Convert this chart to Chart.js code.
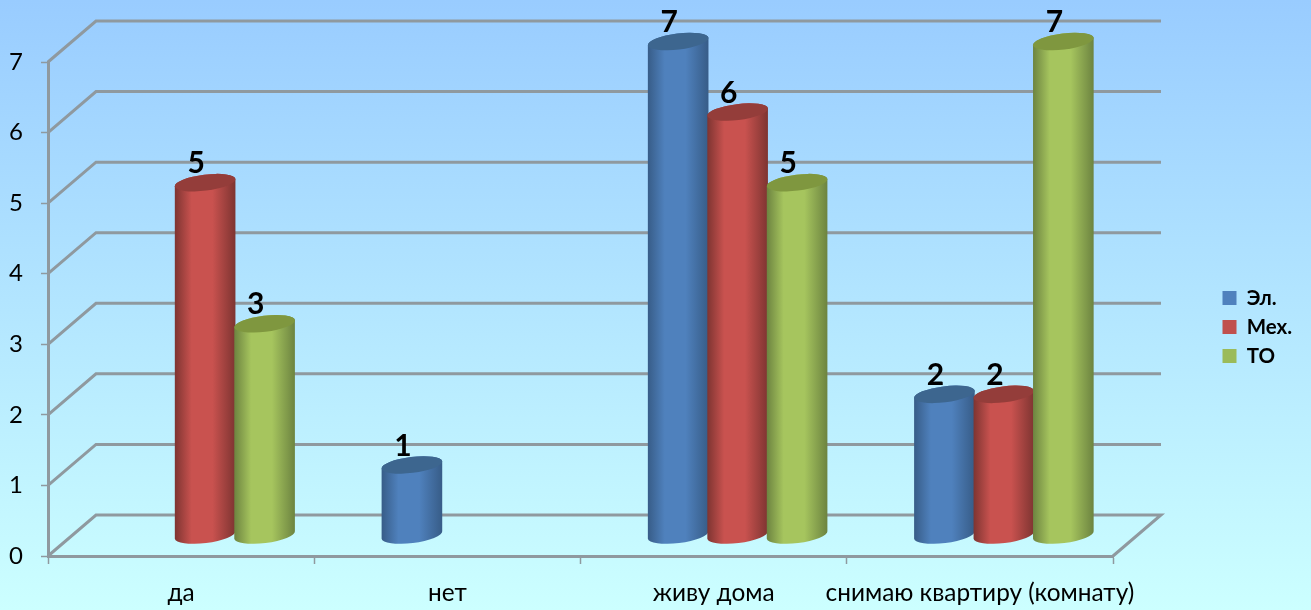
<!DOCTYPE html>
<html lang="ru">

<head>
  <meta charset="UTF-8" />
  <title>Диаграмма</title>
  <script src="https://cdn.jsdelivr.net/npm/chart.js"></script>
  <style>
    html, body { margin: 0; padding: 0; height: 100%; overflow: hidden; }
    body { background: linear-gradient(#99ccff, #ccffff); }
    canvas { display: block; filter: blur(0.5px); }
  </style>
</head>

<body>
  <canvas id="grafik" width="1311" height="610"></canvas>

  <script>
    const categories = ['да', 'нет', 'живу дома', 'снимаю квартиру (комнату)'];
    const seriesNames = ['Эл.', 'Мех.', 'ТО'];
    const elValues = [null, 1, 7, 2];
    const mexValues = [5, null, 6, 2];
    const toValues = [3, null, 5, 7];
    const seriesColors = ['#4f81bd', '#c0504d', '#9bbb59'];
    const gridColor = '#8f999f';

    // shades of each cylinder: edge, light middle, top face
    const shades = [
      { edge: '#375c87', mid: '#4f81bd', top: '#3d668f' },
      { edge: '#7d3431', mid: '#c9524f', top: '#943d3a' },
      { edge: '#6c8340', mid: '#a6c55e', top: '#7f973f' }
    ];

    // fake 3D depth of the floor
    const depthX = 48;
    const depthY = 41;
    const rot = -7 * Math.PI / 180;
    const ry = 8;

    const walls = {
      id: 'walls',
      beforeDatasetsDraw(chart) {
        const { ctx, chartArea, scales } = chart;
        ctx.save();
        ctx.strokeStyle = gridColor;
        ctx.lineWidth = 3;
        scales.y.ticks.forEach(t => {
          const y = scales.y.getPixelForValue(t.value);
          ctx.beginPath();
          ctx.moveTo(chartArea.left, y);
          ctx.lineTo(chartArea.left + depthX, y - depthY);
          ctx.lineTo(chartArea.right + depthX, y - depthY);
          if (t.value === 0) ctx.lineTo(chartArea.right, y);
          ctx.stroke();
        });
        ctx.restore();
      }
    };

    const cylinders = {
      id: 'cylinders',
      // native flat bars are replaced by the cylinders below
      beforeDatasetDraw() {
        return false;
      },
      afterDatasetsDraw(chart) {
        const { ctx } = chart;
        const dx = depthX / 2;
        const dy = depthY / 2;
        chart.data.datasets.forEach((ds, i) => {
          chart.getDatasetMeta(i).data.forEach((bar, j) => {
            if (ds.data[j] === null) return;
            const cx = bar.x + dx;
            const rx = bar.width / 2 + 0.8;
            const top = bar.y - dy;
            const base = bar.base - dy;
            const g = ctx.createLinearGradient(cx - rx, 0, cx + rx, 0);
            g.addColorStop(0, shades[i].edge);
            g.addColorStop(0.28, shades[i].mid);
            g.addColorStop(0.62, shades[i].mid);
            g.addColorStop(1, shades[i].edge);
            ctx.save();
            ctx.beginPath();
            ctx.ellipse(cx, top, rx, ry, rot, Math.PI, 0, false);
            ctx.ellipse(cx, base, rx, ry, rot, 0, Math.PI, false);
            ctx.closePath();
            ctx.fillStyle = g;
            ctx.fill();
            ctx.beginPath();
            ctx.ellipse(cx, top, rx, ry, rot, 0, Math.PI * 2);
            ctx.fillStyle = shades[i].top;
            ctx.fill();
            ctx.restore();
          });
        });
        // value labels go over all the cylinders
        ctx.save();
        ctx.font = 'bold 30px Lato, "Open Sans", sans-serif';
        ctx.fillStyle = '#000';
        ctx.textAlign = 'center';
        ctx.textBaseline = 'middle';
        chart.data.datasets.forEach((ds, i) => {
          chart.getDatasetMeta(i).data.forEach((bar, j) => {
            if (ds.data[j] === null) return;
            ctx.fillText(ds.data[j], bar.x + dx - 9, bar.y - dy - 19);
          });
        });
        ctx.restore();
      }
    };

    const legendPlace = {
      id: 'legendPlace',
      afterLayout(chart) {
        const lg = chart.legend;
        lg.left = 1214;
        lg.top = 279.25;
        lg.right = lg.left + 97;
        lg.bottom = lg.top + 110;
      }
    };

    new Chart(document.getElementById('grafik'), {
      type: 'bar',
      data: {
        labels: categories,
        datasets: [
          { label: seriesNames[0], data: elValues, backgroundColor: seriesColors[0] },
          { label: seriesNames[1], data: mexValues, backgroundColor: seriesColors[1] },
          { label: seriesNames[2], data: toValues, backgroundColor: seriesColors[2] }
        ]
      },
      plugins: [walls, cylinders, legendPlace],
      options: {
        responsive: false,
        animation: false,
        categoryPercentage: 0.67,
        barPercentage: 1,
        layout: { padding: { top: 62, right: 198 } },
        scales: {
          x: {
            afterFit(scale) { scale.height = 54; },
            border: { color: gridColor, width: 3 },
            grid: { offset: true, drawOnChartArea: false, color: gridColor, tickLength: 8, tickWidth: 1.5 },
            ticks: { autoSkip: false, color: '#000', padding: 15, maxRotation: 0, font: { family: 'Lato, "Open Sans", sans-serif', size: 24.4 } }
          },
          y: {
            min: 0,
            max: 7,
            afterFit(scale) { scale.width = 48; },
            border: { color: gridColor, width: 3 },
            grid: { drawOnChartArea: false, color: gridColor, tickLength: 7, tickWidth: 1.5 },
            ticks: { stepSize: 1, color: '#000', padding: 18, font: { family: 'Lato, "Open Sans", sans-serif', size: 24 } }
          }
        },
        plugins: {
          tooltip: { enabled: false },
          legend: {
            position: 'chartArea',
            align: 'start',
            labels: {
              boxWidth: 14,
              boxHeight: 14,
              padding: 8.5,
              color: '#000',
              font: { family: 'Lato, "Open Sans", sans-serif', size: 20.5, weight: 'bold' }
            }
          }
        }
      }
    });
  </script>
</body>

</html>
